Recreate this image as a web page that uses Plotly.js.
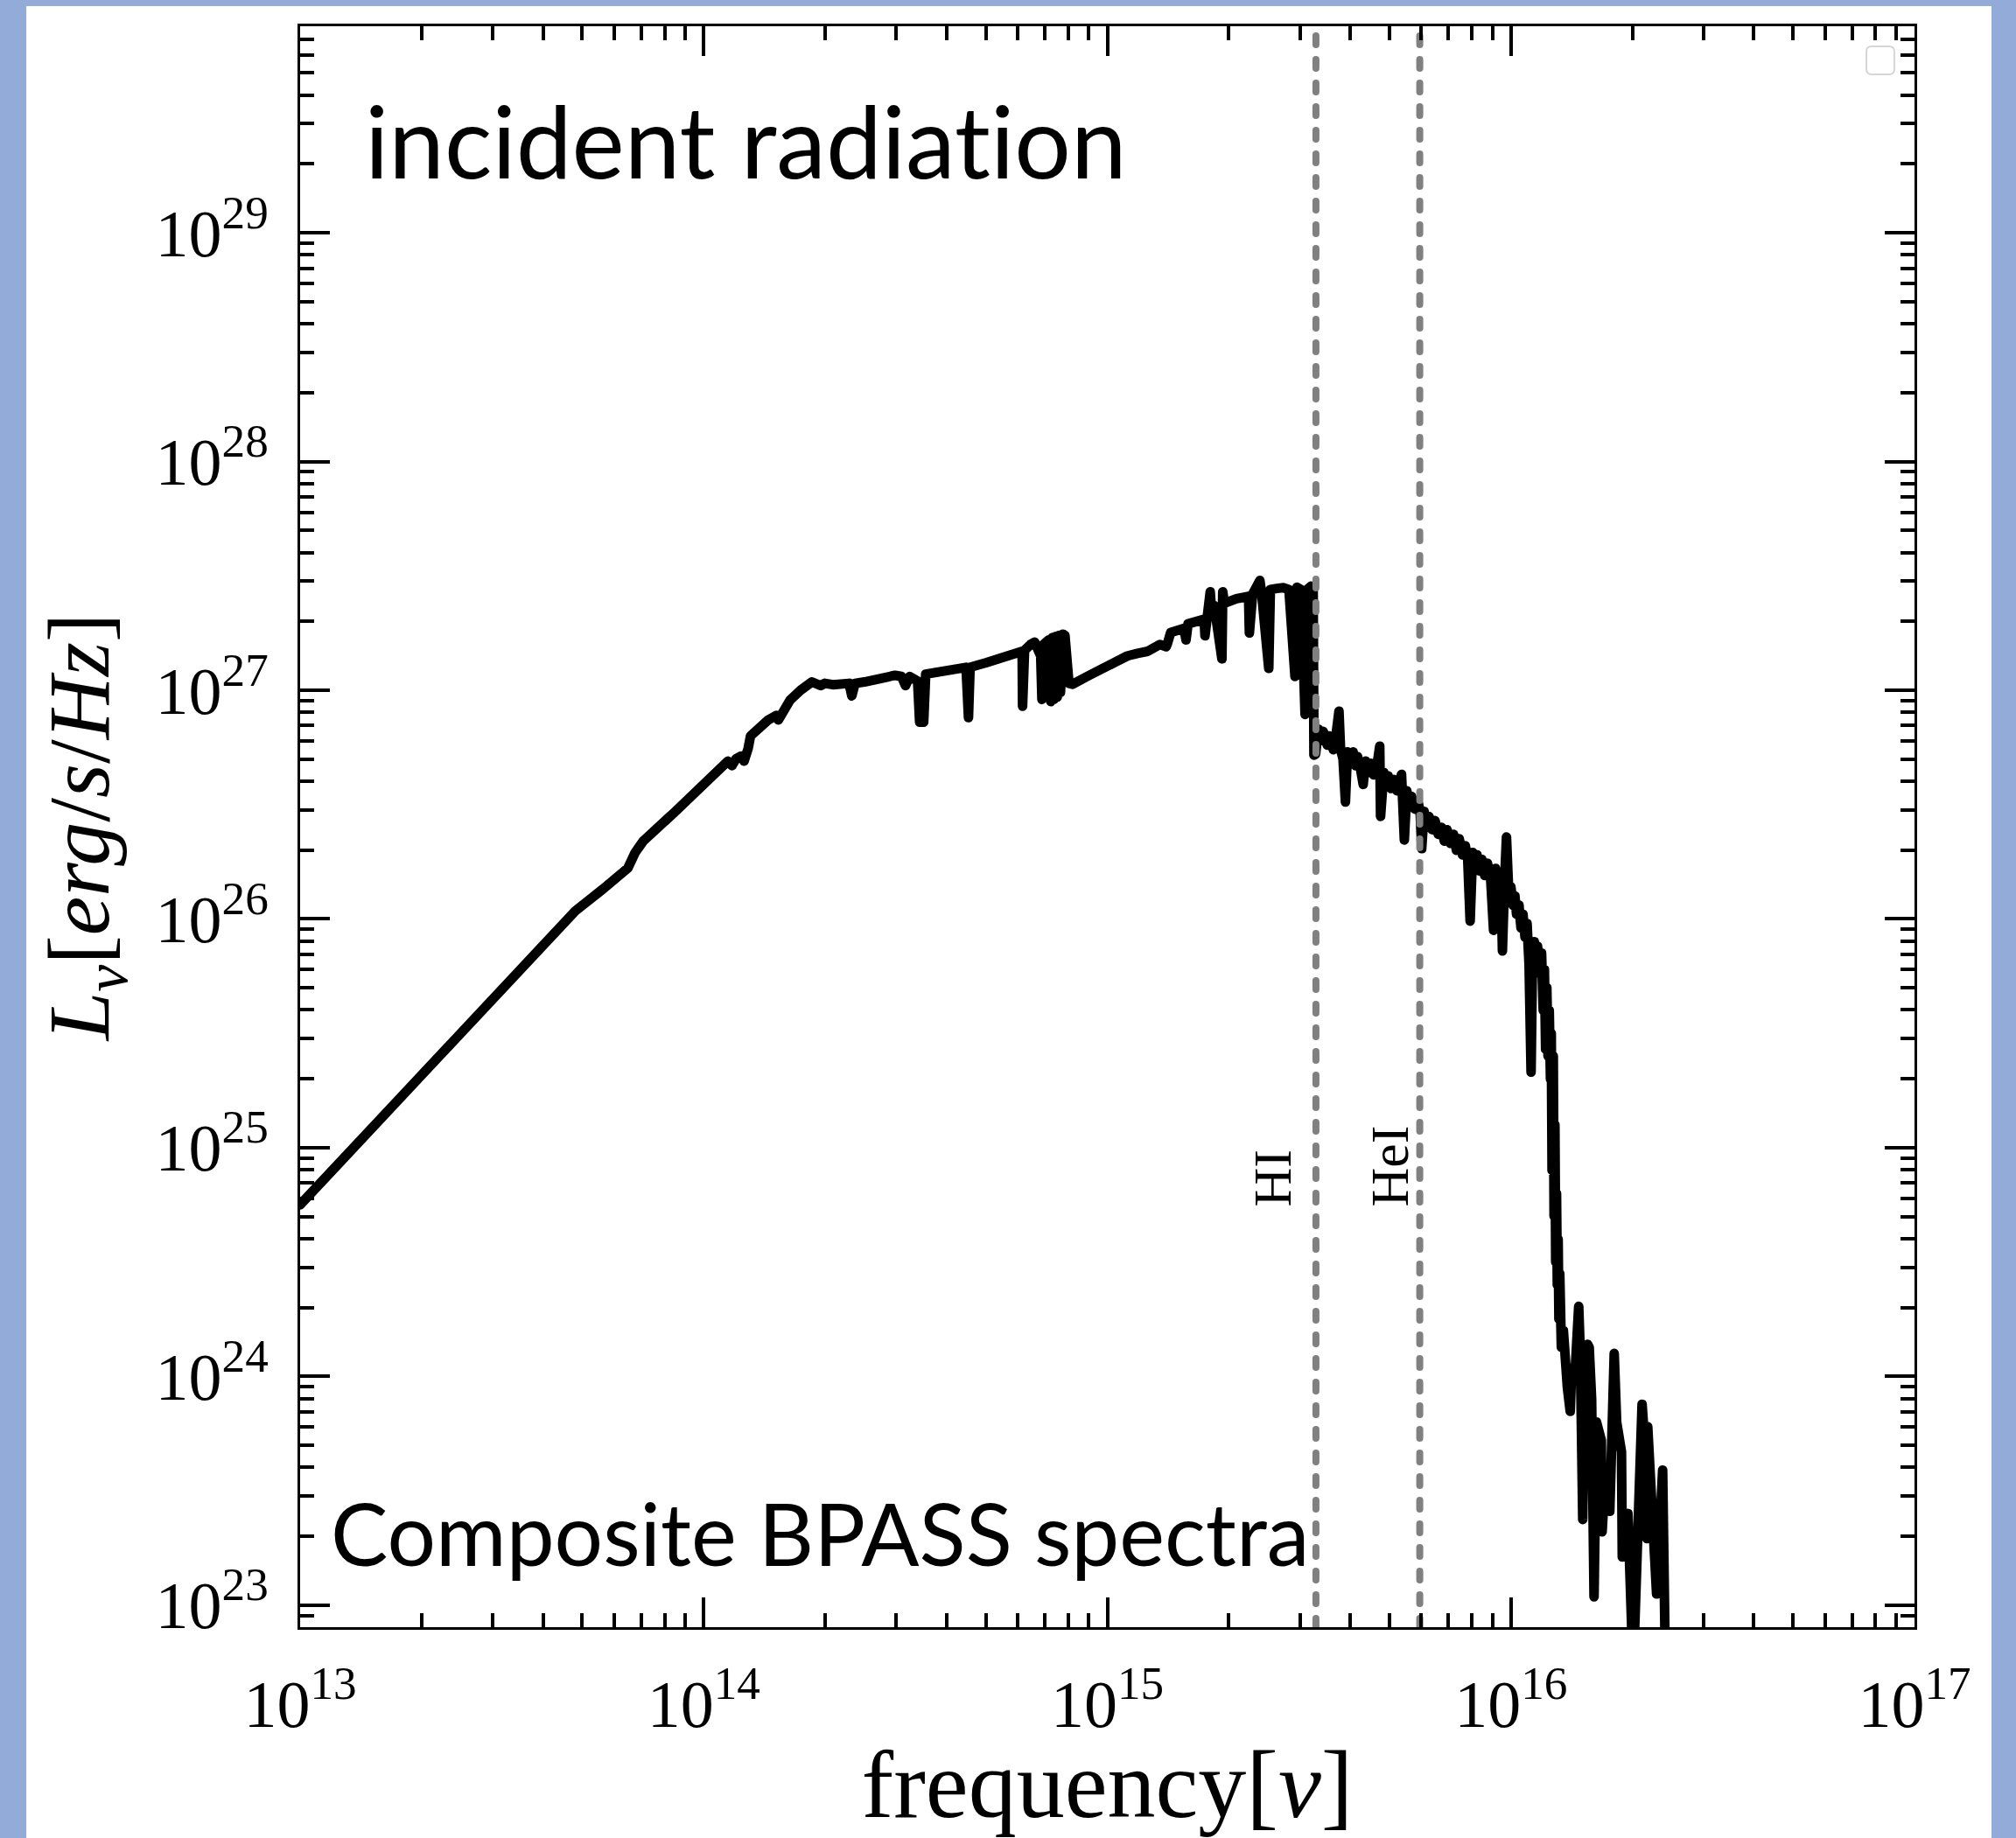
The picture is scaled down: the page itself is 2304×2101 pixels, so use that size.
<!DOCTYPE html>
<html><head><meta charset="utf-8">
<script src="https://cdn.plot.ly/plotly-3.0.1.min.js"></script>
<style>
html,body{margin:0;padding:0;background:#93abd8;}
#chart{width:2304px;height:2101px;}
.scatterlayer .js-line{stroke-linejoin:round !important;stroke-linecap:round !important;}
svg text{font-variant-ligatures:none !important;font-feature-settings:"liga" 0,"clig" 0,"dlig" 0 !important;}
</style></head><body><div id="chart"></div>
<script>
// Spectrum (log10 frequency [Hz], log10 L_nu [erg/s/Hz])
const logNu = [
13.000,13.606,13.682,13.750,13.812,13.830,13.850,13.930,14.000,14.030,14.047,14.060,14.070,14.080,14.093,14.100,14.110,
14.116,14.160,14.180,14.185,14.214,14.240,14.268,14.290,14.300,14.320,14.360,14.367,14.375,14.398,14.430,14.450,14.474,14.490,14.500,14.510,
14.530,14.535,14.545,14.550,14.580,14.600,14.650,14.656,14.660,14.700,14.750,14.789,14.790,14.795,14.810,14.820,14.835,14.838,14.842,14.855,
14.860,14.864,14.868,14.872,14.876,14.880,14.884,14.890,14.895,14.905,14.914,14.950,15.006,15.050,15.075,15.100,15.130,15.146,15.150,15.157,
15.190,15.195,15.200,15.240,15.242,15.250,15.255,15.258,15.265,15.284,15.286,15.290,15.320,15.350,15.352,15.360,15.378,15.382,15.400,15.404,
15.420,15.436,15.450,15.465,15.470,15.480,15.490,15.495,15.505,15.510,15.512,
15.516,15.523,15.530,15.535,15.545,15.550,15.560,15.565,15.574,15.578,15.584,15.590,15.595,15.602,15.609,15.615,15.620,15.628,15.634,15.640,
15.646,15.653,15.660,15.668,15.675,15.677,15.685,15.690,15.696,15.703,15.710,15.718,15.729,15.736,15.742,15.748,15.754,15.762,15.770,15.775,
15.779,15.785,15.790,15.797,15.805,15.812,15.820,15.828,15.835,15.842,15.850,15.858,15.865,15.872,15.880,15.887,15.893,15.899,15.905,15.910,
15.916,15.922,15.928,15.935,15.942,15.950,15.957,15.962,15.968,15.975,15.979,15.984,15.989,15.995,16.000,16.005,16.010,16.014,16.020,16.025,
16.030,16.035,16.040,16.045,16.050,16.053,16.058,16.062,16.066,16.072,16.076,16.080,16.083,16.086,16.089,16.092,16.095,16.098,16.100,16.102,
16.105,16.107,16.109,16.111,16.113,16.115,16.117,16.119,16.121,16.125,
16.130,16.140,16.147,16.150,16.160,16.168,16.172,16.178,16.182,16.190,16.194,16.200,16.206,16.212,16.224,16.226,16.235,16.245,16.256,16.262,
16.274,16.276,16.290,16.303,16.310,16.325,16.332,16.337,16.339,16.350,16.361,16.376,16.383
];
const logLnu = [
24.750,25.898,26.035,26.130,26.222,26.290,26.340,26.470,26.586,26.640,26.674,26.690,26.670,26.700,26.712,26.690,26.745,
26.800,26.870,26.890,26.870,26.957,27.000,27.036,27.020,27.030,27.024,27.030,26.975,27.030,27.036,27.045,27.060,27.065,27.060,27.020,27.060,
27.040,26.860,26.860,27.070,27.080,27.090,27.100,26.880,27.100,27.120,27.150,27.170,26.930,27.175,27.200,27.210,27.150,26.960,27.200,27.220,
26.950,27.230,26.960,27.235,26.970,27.240,26.990,27.245,27.240,27.030,27.026,27.060,27.115,27.150,27.161,27.170,27.200,27.190,27.210,27.252,
27.270,27.220,27.290,27.310,27.238,27.340,27.430,27.350,27.370,27.137,27.430,27.380,27.400,27.410,27.250,27.420,27.480,27.430,27.095,27.440,
27.445,27.448,27.440,27.060,27.450,27.440,26.894,27.440,27.455,27.450,26.716,
26.720,26.830,26.780,26.820,26.760,26.800,26.740,26.780,26.908,26.740,26.700,26.511,26.730,26.690,26.730,26.670,26.710,26.650,26.588,26.690,
26.640,26.680,26.630,26.670,26.755,26.448,26.640,26.590,26.626,26.570,26.610,26.560,26.632,26.345,26.560,26.510,26.536,26.480,26.510,26.470,
26.307,26.470,26.420,26.448,26.390,26.430,26.370,26.400,26.340,26.390,26.330,26.370,26.300,26.350,26.280,26.320,26.260,25.990,26.290,26.230,
26.280,26.210,26.260,26.190,26.243,26.170,25.950,26.220,26.150,26.200,25.860,26.150,26.358,26.100,26.140,26.060,26.100,26.020,26.060,25.960,
26.020,25.920,25.980,25.800,25.330,25.750,25.900,25.830,25.880,25.760,25.850,25.600,25.780,25.430,25.700,25.400,25.600,25.300,25.500,24.900,
25.400,24.700,25.100,24.500,24.800,24.400,24.600,24.250,24.450,24.127,
24.200,23.950,23.847,24.000,24.050,24.306,24.100,23.374,24.000,24.140,24.127,23.900,23.036,23.800,23.720,23.320,23.600,23.410,24.100,23.800,
23.670,23.210,23.400,22.700,23.197,23.878,23.700,23.290,23.780,23.400,23.048,23.590,22.700
];
// Ionisation edges
const edgeNu = [3.288e15, 5.945e15];
const edgeNames = ['HI', 'HeI'];
// Axis ticks
const xTickVals = [1e13, 1e14, 1e15, 1e16, 1e17];
const xTickText = ['10<sup>13</sup>','10<sup>14</sup>','10<sup>15</sup>','10<sup>16</sup>','10<sup>17</sup>'];
const yTickVals = [1e23, 1e24, 1e25, 1e26, 1e27, 1e28, 1e29];
const yTickText = ['10<sup>23</sup>','10<sup>24</sup>','10<sup>25</sup>','10<sup>26</sup>','10<sup>27</sup>','10<sup>28</sup>','10<sup>29</sup>'];
const yLow = 8e22, yHigh = 8e29;

const nu = logNu.map(v => Math.pow(10, v));
const Lnu = logLnu.map(v => Math.pow(10, v));

function minorTicks(d0, d1, lo, hi) {
  const out = [];
  for (let d = d0; d <= d1; d++) for (let m = 2; m <= 9; m++) {
    const v = m * Math.pow(10, d);
    if (v >= lo * 0.999 && v <= hi * 1.001) out.push(v);
  }
  return out;
}
const minorX = minorTicks(13, 16, 1e13, 1e17);
const minorY = minorTicks(22, 29, yLow, yHigh);

const serif = 'Liberation Serif, Times New Roman, serif';
const sans = 'Lato, Open Sans, sans-serif';

const traces = [{
  type: 'scatter', mode: 'lines', x: nu, y: Lnu,
  line: {color: 'black', width: 11}, hoverinfo: 'skip'
}];
edgeNu.forEach(v => traces.push({
  type: 'scatter', mode: 'lines', x: [v, v], y: [yLow, yHigh],
  line: {color: '#808080', width: 8, dash: '10px,17px'}, hoverinfo: 'skip'
}));

const axisCommon = {
  type: 'log', showgrid: false, zeroline: false,
  showline: true, linecolor: 'black', linewidth: 3, mirror: 'allticks',
  ticks: 'inside', ticklen: 34, tickwidth: 4, tickcolor: 'black',
  tickfont: {family: serif, size: 76, color: 'black'}
};

const xr0 = -0.1696, xr1 = 1.0477;
// legend box (rounded)
const bx0 = 0.9702, bx1 = 0.9875, by0 = 0.9699, by1 = 0.9874, rx = 0.0033, ry = 0.0033;
const legendPath = `M ${bx0+rx} ${by1} L ${bx1-rx} ${by1} Q ${bx1} ${by1} ${bx1} ${by1-ry} L ${bx1} ${by0+ry} Q ${bx1} ${by0} ${bx1-rx} ${by0} L ${bx0+rx} ${by0} Q ${bx0} ${by0} ${bx0} ${by0+ry} L ${bx0} ${by1-ry} Q ${bx0} ${by1} ${bx0+rx} ${by1} Z`;

const layout = {
  width: 2304, height: 2101,
  margin: {l: 343, r: 116, t: 30, b: 241, pad: 0},
  paper_bgcolor: '#93abd8', plot_bgcolor: 'white',
  showlegend: false,
  xaxis: Object.assign({}, axisCommon, {
    range: [13, 17], tickmode: 'array', tickvals: xTickVals, ticktext: xTickText,
    ticklabelstandoff: 20,
    minor: {tickmode: 'array', tickvals: minorX, ticks: 'inside', ticklen: 16, tickwidth: 4, tickcolor: 'black', showgrid: false},
    title: {text: 'frequency[<i>ν</i>]', font: {family: serif, size: 110, color: 'black'}, standoff: 24}
  }),
  yaxis: Object.assign({}, axisCommon, {
    range: [Math.log10(yLow), Math.log10(yHigh)], tickmode: 'array', tickvals: yTickVals, ticktext: yTickText,
    ticklabelstandoff: 18,
    minor: {tickmode: 'array', tickvals: minorY, ticks: 'inside', ticklen: 16, tickwidth: 4, tickcolor: 'black', showgrid: false},
    title: {text: '<i>L</i><sub><i>ν</i></sub>[<i>erg</i>/<i>s</i>/<i>Hz</i>]', font: {family: serif, size: 100, color: 'black'}, standoff: 20}
  }),
  shapes: [
    {type: 'rect', xref: 'paper', yref: 'paper', x0: xr0, x1: xr1, y0: -0.1317, y1: 1.0126,
     fillcolor: 'white', line: {width: 0}, layer: 'below'},
    {type: 'path', xref: 'paper', yref: 'paper', path: legendPath,
     fillcolor: 'white', line: {color: '#d6d6d6', width: 2}, layer: 'above'}
  ],
  annotations: [
    {xref: 'paper', yref: 'paper', x: (415-343)/1845, y: (1860-160)/1830, xanchor: 'left', yanchor: 'middle',
     text: 'incident radiation', showarrow: false, font: {family: sans, size: 114, color: 'black'}},
    {xref: 'paper', yref: 'paper', x: (376-343)/1845, y: (1860-1752)/1830, xanchor: 'left', yanchor: 'middle',
     text: 'Composite BPASS spectra', showarrow: false, font: {family: sans, size: 98, color: 'black'}},
    {xref: 'paper', yref: 'paper', x: (1453-343)/1845, y: (1860-1382)/1830, xanchor: 'center', yanchor: 'bottom',
     text: edgeNames[0], textangle: -90, showarrow: false, font: {family: serif, size: 62, color: 'black'}},
    {xref: 'paper', yref: 'paper', x: (1587-343)/1845, y: (1860-1382)/1830, xanchor: 'center', yanchor: 'bottom',
     text: edgeNames[1], textangle: -90, showarrow: false, font: {family: serif, size: 62, color: 'black'}}
  ]
};

Plotly.newPlot('chart', traces, layout, {staticPlot: true, displayModeBar: false});
</script></body></html>
